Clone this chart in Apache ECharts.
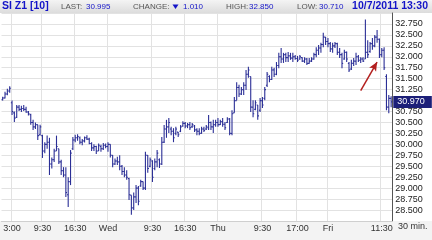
<!DOCTYPE html>
<html><head><meta charset="utf-8">
<script src="https://cdn.jsdelivr.net/npm/echarts@6/dist/echarts.min.js"></script>
<style>html,body{margin:0;padding:0;background:#fff}#c{width:432px;height:240px}</style>
</head><body><div id="c"></div>
<script>
// ---- data (30-minute OHLC bars) ----
var opens = [31.02,31.06,31.15,31.22,30.95,30.72,30.62,30.85,30.80,30.82,30.80,30.74,30.68,30.50,30.40,30.45,30.22,30.20,29.85,30.00,
30.05,29.55,29.65,29.85,29.90,29.60,29.40,29.30,28.85,29.15,29.90,30.10,30.15,30.15,30.05,30.08,30.15,30.12,30.02,29.92,
29.95,29.85,29.95,29.90,29.98,29.95,30.00,29.75,29.55,29.62,29.60,29.50,29.38,29.30,29.22,28.84,28.55,28.80,29.00,29.05,
29.15,29.00,29.75,29.50,29.62,29.45,29.60,29.65,29.55,30.05,30.35,30.40,30.35,30.30,30.25,30.28,30.30,30.42,30.48,30.42,
30.45,30.40,30.42,30.33,30.30,30.25,30.35,30.35,30.38,30.50,30.40,30.45,30.50,30.45,30.52,30.46,30.50,30.58,30.25,30.72,
31.00,31.30,31.15,31.25,31.35,31.60,31.55,30.85,30.80,30.90,30.78,31.00,31.05,31.35,31.55,31.48,31.70,31.60,31.80,32.00,
31.95,32.05,31.98,32.02,31.97,32.00,31.96,31.95,31.98,31.90,31.95,31.85,31.90,31.95,32.05,32.15,32.20,32.28,32.45,32.35,
32.30,32.18,32.25,32.30,32.10,32.05,31.95,32.10,31.85,31.72,31.85,31.90,32.00,31.92,31.95,31.95,32.10,32.12,32.30,32.25,
32.45,32.40,32.05,32.15,31.55,30.85,31.05];
var highs = [31.09,31.20,31.27,31.33,31.00,30.75,30.90,30.90,30.88,30.90,30.86,30.76,30.70,30.56,30.50,30.45,30.45,30.22,30.05,30.20,
30.15,29.70,29.90,30.20,29.90,29.65,29.48,29.48,29.25,29.87,30.17,30.22,30.23,30.18,30.12,30.18,30.21,30.15,30.05,30.00,
29.97,30.02,29.99,30.03,30.02,30.05,30.00,29.76,29.68,29.72,29.75,29.53,29.48,29.41,29.24,28.84,28.90,29.07,29.05,29.19,
29.15,29.83,29.76,29.70,29.64,29.68,29.87,29.68,30.17,30.44,30.56,30.60,30.40,30.37,30.40,30.28,30.44,30.53,30.51,30.49,
30.51,30.49,30.44,30.37,30.37,30.40,30.40,30.44,30.67,30.52,30.56,30.56,30.60,30.56,30.60,30.51,30.62,30.60,30.78,31.08,
31.42,31.36,31.31,31.42,31.70,31.77,31.55,31.01,31.01,30.90,31.06,31.08,31.31,31.65,31.58,31.77,31.75,31.88,32.09,32.20,
32.09,32.09,32.11,32.09,32.09,32.04,32.02,32.04,31.99,31.99,31.97,31.97,31.99,32.09,32.22,32.27,32.32,32.55,32.45,32.43,
32.34,32.32,32.34,32.32,32.20,32.09,32.16,32.12,31.88,31.93,31.97,32.09,32.04,31.99,31.99,32.85,32.38,32.34,32.43,32.50,
32.61,32.42,32.20,32.22,31.60,31.13,31.10];
var lows = [31.00,31.05,31.12,31.18,30.67,30.51,30.60,30.76,30.74,30.76,30.72,30.66,30.45,30.33,30.35,30.10,30.20,29.69,29.80,29.90,
29.30,29.45,29.60,29.85,29.55,29.30,29.25,28.80,28.57,29.07,29.87,30.05,30.08,30.00,29.98,30.04,30.10,30.00,29.85,29.85,
29.78,29.85,29.83,29.87,29.91,29.83,29.70,29.48,29.53,29.53,29.41,29.30,29.25,29.19,28.73,28.39,28.50,28.66,28.61,29.03,
28.96,28.96,29.35,29.48,29.14,29.41,29.48,29.46,29.53,30.03,30.15,30.26,30.21,30.05,30.21,30.17,30.28,30.40,30.37,30.37,
30.33,30.38,30.28,30.21,30.21,30.24,30.28,30.33,30.33,30.33,30.26,30.40,30.40,30.44,30.40,30.33,30.49,30.21,30.21,30.72,
31.01,31.08,31.13,31.13,31.24,31.52,30.74,30.62,30.78,30.56,30.74,30.83,31.01,31.31,31.42,31.47,31.54,31.58,31.74,31.86,
31.86,31.88,31.88,31.93,31.88,31.93,31.88,31.93,31.88,31.86,31.81,31.84,31.88,31.93,31.99,32.04,32.09,32.22,32.27,32.22,
32.11,32.09,32.20,32.04,31.97,31.74,31.93,31.88,31.65,31.70,31.79,31.81,31.88,31.86,31.88,31.95,31.97,32.09,32.16,32.22,
32.32,31.97,31.99,31.70,30.78,30.71,30.85];
var closes = [31.06,31.15,31.22,31.28,30.75,30.60,30.85,30.80,30.82,30.80,30.74,30.70,30.50,30.40,30.45,30.20,30.40,29.85,30.00,30.05,
29.55,29.65,29.85,29.95,29.60,29.40,29.30,28.90,29.15,29.80,30.10,30.15,30.18,30.05,30.08,30.15,30.12,30.02,29.92,29.95,
29.85,29.98,29.90,29.98,29.95,30.00,29.75,29.55,29.62,29.60,29.50,29.38,29.30,29.25,28.85,28.55,28.80,29.00,28.70,29.15,
29.00,29.75,29.45,29.65,29.25,29.60,29.80,29.55,30.05,30.35,30.40,30.50,30.30,30.15,30.35,30.22,30.40,30.48,30.42,30.45,
30.38,30.45,30.33,30.30,30.25,30.35,30.32,30.40,30.50,30.40,30.45,30.50,30.45,30.52,30.46,30.38,30.58,30.25,30.70,31.00,
31.30,31.15,31.25,31.35,31.60,31.70,30.85,30.70,30.95,30.65,31.00,30.90,31.25,31.60,31.48,31.70,31.60,31.80,32.00,31.95,
32.05,31.98,32.02,31.97,32.00,31.96,31.92,32.00,31.90,31.95,31.85,31.90,31.95,32.05,32.15,32.20,32.28,32.45,32.35,32.30,
32.18,32.25,32.30,32.10,32.05,31.85,32.10,31.95,31.70,31.85,31.90,32.00,31.92,31.95,31.90,32.10,32.05,32.30,32.25,32.45,
32.40,32.05,32.15,31.75,30.85,31.05,30.97];
var xTickIndex  = [4, 17, 31, 45, 64, 78, 92, 111, 126, 139, 162];
var xTickLabels = ['3:00','9:30','16:30','Wed','9:30','16:30','Thu','9:30','17:00','Fri','11:30'];
var lastPrice = 30.970;
var arrowFrom = [153, 31.23];
var arrowTo   = [160, 31.88];

var categories = [];
for (var i = 0; i < closes.length; i++) categories.push(String(i));
var ohlc = [];
for (var j = 0; j < closes.length; j++) ohlc.push([j, opens[j], closes[j], lows[j], highs[j]]);

var BAR = '#2b2f96';
var FONT = 'Liberation Sans, Arial, sans-serif';
var chart = echarts.init(document.getElementById('c'), null, {renderer: 'canvas'});
chart.setOption({
  animation: false,
  backgroundColor: '#ffffff',
  grid: {left: 1.5, right: 39.7, top: 13, bottom: 19, containLabel: false},
  xAxis: {
    type: 'category', data: categories, boundaryGap: true,
    axisLine: {show: true, lineStyle: {color: '#cfcfcf'}},
    axisTick: {show: false},
    axisLabel: {
      interval: function (idx) { return xTickIndex.indexOf(idx) >= 0; },
      formatter: function (v, idx) { var k = xTickIndex.indexOf(idx); return k >= 0 ? xTickLabels[k] : ''; },
      color: '#333', fontSize: 9, fontFamily: FONT, margin: 3
    },
    splitLine: {show: true, interval: function (idx) { return xTickIndex.indexOf(idx) >= 0; },
      lineStyle: {color: '#e2e2e2', width: 1}}
  },
  yAxis: {
    type: 'value', position: 'right', min: 28.25, max: 33.0, interval: 0.25,
    axisLine: {show: true, lineStyle: {color: '#555'}},
    axisTick: {show: false},
    axisLabel: {showMinLabel: false, showMaxLabel: false, margin: 3,
      formatter: function (v) { return v.toFixed(3); },
      color: '#222', fontSize: 9, fontFamily: FONT},
    splitLine: {show: true, lineStyle: {color: '#e2e2e2', width: 1}}
  },
  graphic: [
    {type: 'rect', z: 0, silent: true, shape: {x: 0, y: 0, width: 432, height: 13},
      style: {fill: new echarts.graphic.LinearGradient(0, 0, 0, 1, [{offset: 0, color: '#f4f4f4'}, {offset: 1, color: '#dcdcdc'}])}},
    {type: 'rect', z: 0, silent: true, shape: {x: 0, y: 221, width: 432, height: 19},
      style: {fill: '#f3f3f3'}},
    {type: 'text', z: 5, left: 2, top: 1, style: {text: 'SI Z1 [10]', fill: '#1414c8', font: 'bold 10.5px ' + FONT}},
    {type: 'text', z: 5, left: 61, top: 3, style: {text: 'LAST:', fill: '#555', font: '8px ' + FONT}},
    {type: 'text', z: 5, left: 86, top: 3, style: {text: '30.995', fill: '#1414c8', font: '8px ' + FONT}},
    {type: 'text', z: 5, left: 133, top: 3, style: {text: 'CHANGE:', fill: '#555', font: '8px ' + FONT}},
    {type: 'polygon', z: 5, shape: {points: [[172.5, 4.5], [178.5, 4.5], [175.5, 9]]}, style: {fill: '#1414c8'}},
    {type: 'text', z: 5, left: 183, top: 3, style: {text: '1.010', fill: '#1414c8', font: '8px ' + FONT}},
    {type: 'text', z: 5, left: 226, top: 3, style: {text: 'HIGH:', fill: '#555', font: '8px ' + FONT}},
    {type: 'text', z: 5, left: 249, top: 3, style: {text: '32.850', fill: '#1414c8', font: '8px ' + FONT}},
    {type: 'text', z: 5, left: 297, top: 3, style: {text: 'LOW:', fill: '#555', font: '8px ' + FONT}},
    {type: 'text', z: 5, left: 319, top: 3, style: {text: '30.710', fill: '#1414c8', font: '8px ' + FONT}},
    {type: 'text', z: 5, right: 4, top: 1, style: {text: '10/7/2011 13:30', fill: '#1414c8', font: 'bold 10.5px ' + FONT}},
    {type: 'text', z: 5, left: 398, top: 222, style: {text: '30 min.', fill: '#333', font: '9px ' + FONT}}
  ],
  series: [{
    type: 'custom',
    data: ohlc,
    encode: {x: 0, y: [1, 2, 3, 4]},
    clip: true,
    renderItem: function (params, api) {
      var x = api.value(0);
      var o = api.coord([x, api.value(1)]);
      var c = api.coord([x, api.value(2)]);
      var l = api.coord([x, api.value(3)]);
      var h = api.coord([x, api.value(4)]);
      var t = api.size([1, 0])[0] * 0.5;
      var st = {stroke: BAR, lineWidth: 1.1};
      return {type: 'group', children: [
        {type: 'line', shape: {x1: h[0], y1: h[1], x2: l[0], y2: l[1]}, style: st},
        {type: 'line', shape: {x1: o[0] - t, y1: o[1], x2: o[0], y2: o[1]}, style: st},
        {type: 'line', shape: {x1: c[0], y1: c[1], x2: c[0] + t, y2: c[1]}, style: st}
      ]};
    },
    markLine: {
      silent: true, animation: false, symbol: 'none',
      lineStyle: {color: '#b3201f', width: 1.5, type: 'solid'},
      label: {show: false},
      data: [
        [{coord: arrowFrom, symbol: 'none'}, {coord: arrowTo, symbol: 'arrow', symbolSize: [6, 9]}]
      ]
    }
  }, {
    type: 'line',
    data: [],
    z: 10,
    markLine: {
      silent: true, animation: false, symbol: 'none',
      lineStyle: {color: 'rgba(0,0,0,0)', width: 0},
      label: {show: true, position: 'end', distance: 1, formatter: lastPrice.toFixed(3),
        color: '#ffffff', backgroundColor: '#1c1f78', padding: [2, 7, 1, 4], fontSize: 9, fontFamily: FONT},
      data: [{yAxis: lastPrice}]
    }
  }]
});
</script></body></html>
